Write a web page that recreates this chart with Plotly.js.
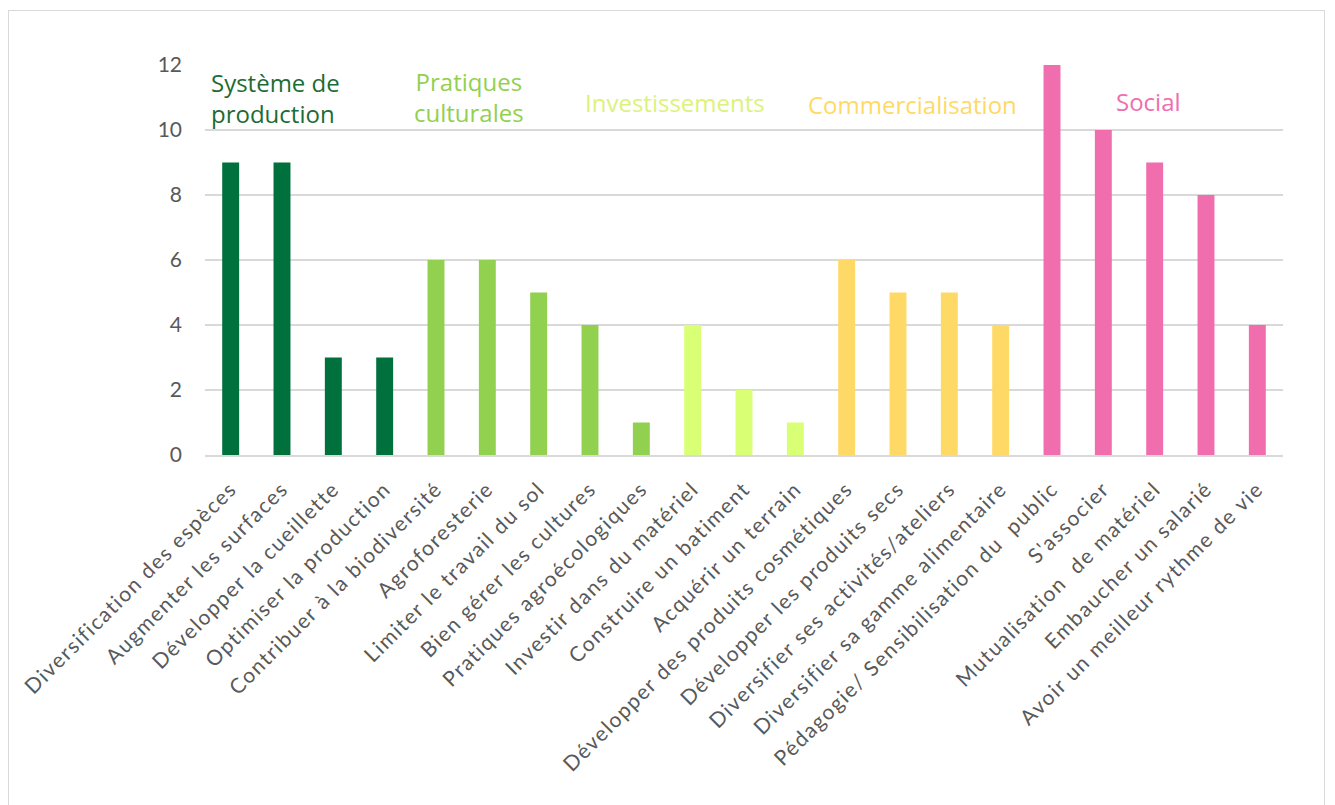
<!DOCTYPE html>
<html>
<head>
<meta charset="utf-8">
<script src="https://cdn.plot.ly/plotly-3.0.1.min.js"></script>
<style>
html,body{margin:0;padding:0;background:#fff;}
#chart{width:1335px;height:805px;}
#frame{position:absolute;left:8px;top:10px;width:1317px;height:800px;border:1.5px solid #d9d9d9;box-sizing:border-box;pointer-events:none;}
.xtick text{letter-spacing:1.5px;}
</style>
</head>
<body>
<div id="chart"></div>
<div id="frame"></div>
<script>
const categories = [
  "Diversification des espèces",
  "Augmenter les surfaces",
  "Développer la cueillette",
  "Optimiser la production",
  "Contribuer à la biodiversité",
  "Agroforesterie",
  "Limiter le travail du sol",
  "Bien gérer les cultures",
  "Pratiques agroécologiques",
  "Investir dans du matériel",
  "Construire un batiment",
  "Acquérir un terrain",
  "Développer des produits cosmétiques",
  "Développer les produits secs",
  "Diversifier ses activités/ateliers",
  "Diversifier sa gamme alimentaire",
  "Pédagogie/ Sensibilisation du \u00a0public",
  "S'associer",
  "Mutualisation \u00a0de matériel",
  "Embaucher un salarié",
  "Avoir un meilleur rythme de vie"
];
const values = [9, 9, 3, 3, 6, 6, 5, 4, 1, 4, 2, 1, 6, 5, 5, 4, 12, 10, 9, 8, 4];
const groupOf = [0,0,0,0, 1,1,1,1,1, 2,2,2, 3,3,3,3, 4,4,4,4,4];
const groupNames = ["Système de<br>production", "Pratiques<br>culturales", "Investissements", "Commercialisation", "Social"];
const groupColors = ["#00703C", "#92D050", "#D9FF75", "#FFD966", "#F06EAE"];
const groupTextColors = ["#1E6B35", "#92D050", "#DCF27A", "#FFD966", "#F06EAE"];
const yTicks = [0, 2, 4, 6, 8, 10, 12];
</script>
<script>
const trace = {
  type: 'bar',
  x: categories,
  y: values,
  marker: {color: groupOf.map(g => groupColors[g])},
  hoverinfo: 'x+y'
};
const annPos = [
  {x: -0.43, y: 10.97, xanchor: 'left', align: 'left'},
  {x: 4.65, y: 11.03, xanchor: 'center', align: 'center'},
  {x: 8.66, y: 10.86, xanchor: 'center', align: 'center'},
  {x: 13.29, y: 10.77, xanchor: 'center', align: 'center'},
  {x: 17.88, y: 10.89, xanchor: 'center', align: 'center'}
];
const annotations = groupNames.map((t, i) => ({
  text: t, x: annPos[i].x, y: annPos[i].y, xref: 'x', yref: 'y',
  xanchor: annPos[i].xanchor, yanchor: 'middle', align: annPos[i].align,
  showarrow: false,
  font: {family: 'Open Sans, sans-serif', size: 24, color: groupTextColors[i]}
}));
const layout = {
  width: 1335, height: 805,
  margin: {l: 205, r: 52, t: 65, b: 350},
  paper_bgcolor: '#ffffff', plot_bgcolor: '#ffffff',
  showlegend: false,
  bargap: 0.67,
  xaxis: {
    type: 'category',
    tickangle: -45,
    tickfont: {family: 'Lato, sans-serif', size: 21, color: '#595959'},
    showgrid: false, showline: true, linecolor: '#d9d9d9', linewidth: 1.5,
    ticks: '', ticklabelstandoff: 12, automargin: false
  },
  yaxis: {
    range: [0, 12], tickvals: yTicks, ticktext: yTicks.map(String),
    tickfont: {family: 'Lato, sans-serif', size: 21, color: '#595959'},
    showgrid: true, gridcolor: '#d9d9d9', gridwidth: 1.5,
    zeroline: false, showline: false, ticks: '', ticklen: 0,
    ticklabelstandoff: 22,
    automargin: false
  },
  annotations: annotations
};
Plotly.newPlot('chart', [trace], layout, {displayModeBar: false, staticPlot: true});
</script>
</body>
</html>
